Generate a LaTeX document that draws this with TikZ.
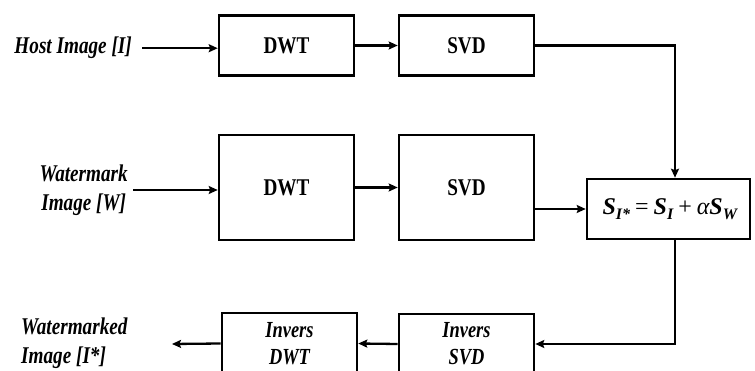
\documentclass[tikz,border=0pt]{standalone}
\usepackage{fontspec}
\setmainfont{Liberation Serif}[FakeStretch=0.8]
\newfontfamily\eqfont{Liberation Serif}
\usetikzlibrary{arrows.meta}
\newcommand\eqsub[1]{\raisebox{-5pt}{\fontsize{16}{16}\selectfont\bfseries\itshape #1}}
\tikzset{
  blk/.style={draw, line width=2.6pt, minimum width=135pt, inner sep=0pt, align=center,
    font=\fontsize{24}{28}\selectfont\bfseries},
  iblk/.style={blk, font=\fontsize{23}{27}\selectfont\bfseries\itshape},
  lbl/.style={inner sep=0pt, font=\fontsize{24}{29}\selectfont\bfseries\itshape},
  arr/.style={line width=2.3pt, -{Stealth[length=9pt,width=8pt,inset=1.5pt]}},
}
\begin{document}
\begin{tikzpicture}[x=1pt,y=-1pt]
\useasboundingbox (0,0) rectangle (755,371);
\begin{scope}
\clip (0,0) rectangle (755,371);
\node[blk, minimum height=60pt] (dwt1) at (286.5,45.5) {DWT};
\node[blk, minimum height=60pt] (svd1) at (466.5,45.5) {SVD};
\node[blk, minimum height=105pt] (dwt2) at (286.5,187.5) {DWT};
\node[blk, minimum height=105pt] (svd2) at (466.5,187.5) {SVD};
\node[draw, line width=2.6pt, minimum height=60pt, text width=137pt, inner xsep=13pt, inner ysep=0pt, align=right,
  font=\eqfont\fontsize{24}{28}\selectfont] (eq) at (668.5,209)
  {\bfseries\itshape S\eqsub{I*}\hspace{5pt}{\upshape\mdseries =}\hspace{5pt}S\eqsub{I}\hspace{5pt}{\upshape\mdseries +}\hspace{5pt}{\mdseries α}S\eqsub{W}};
\node[iblk, minimum height=60pt] (isvd) at (466.5,344) {Invers\\SVD};
\node[iblk, minimum height=61pt] (idwt) at (289.5,343.5) {Invers\\DWT};
\node[lbl, anchor=base east] (host) at (132,54) {Host Image [I]};
\node[lbl, anchor=east, align=center] (wm) at (128,190) {Watermark\\Image [W]};
\node[lbl, anchor=west, align=left] (wmd) at (21,343) {Watermarked\\Image [I*]};
\coordinate (out) at (172,344);
\draw[arr] ([xshift=10pt]host.east) -- (dwt1.west |- host.east);
\draw[arr] (dwt1.east) -- (svd1.west);
\draw[arr] ([xshift=5pt]wm.east) -- (dwt2.west |- wm.east);
\draw[arr] (dwt2.east) -- (svd2.west);
\draw[arr] (svd2.east |- eq.west) -- (eq.west);
\draw[arr] (svd1.east) -| ([xshift=6.5pt]eq.north);
\draw[arr] ([xshift=6.5pt]eq.south) |- (isvd.east);
\draw[arr] (isvd.west) -- (idwt.east);
\draw[arr] (idwt.west) -- (out);
\end{scope}
\end{tikzpicture}
\end{document}
